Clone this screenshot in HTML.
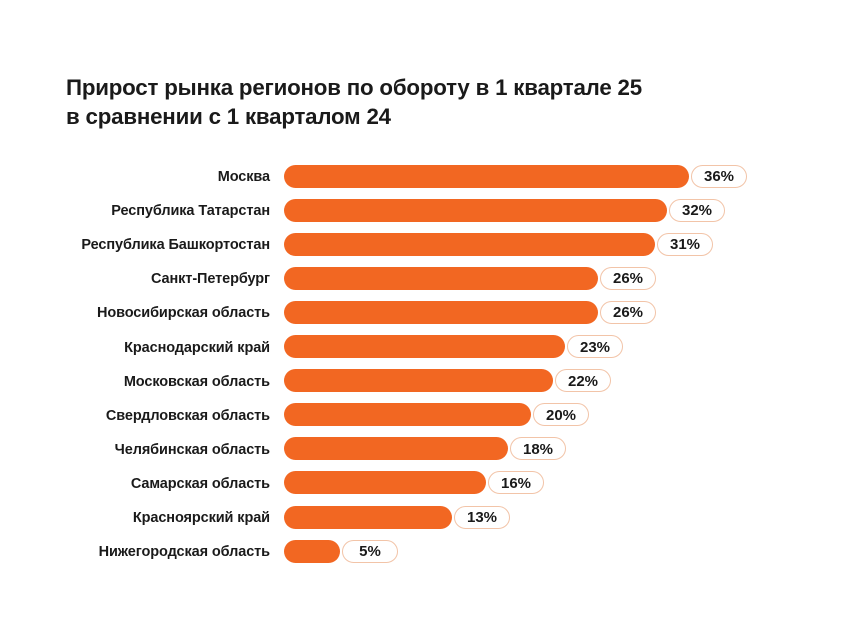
<!DOCTYPE html>
<html><head><meta charset="utf-8"><style>
body{margin:0;width:850px;height:639px;background:#fff;font-family:"Liberation Sans",sans-serif;position:relative;overflow:hidden;color:#1a1a1a}
.t{position:absolute;left:66px;top:73px;font-size:22.3px;font-weight:bold;line-height:29px;letter-spacing:-0.2px}
.l{position:absolute;right:580px;font-size:14.5px;font-weight:bold;text-align:right;white-space:nowrap;height:22px;line-height:22px;letter-spacing:-0.1px}
.b{position:absolute;left:284px;height:23px;background:#f26722;border-radius:12px}
.p{position:absolute;box-sizing:border-box;height:23px;width:56px;border:1.5px solid #f2c4a8;border-radius:12px;font-size:15px;font-weight:bold;background:#fff;display:flex;align-items:center;justify-content:center;padding-top:1px}
</style></head><body>
<div class="t">Прирост рынка регионов по обороту в 1 квартале 25<br>в сравнении с 1 кварталом 24</div>
<div id="c"></div>
<script>
var d=[["Москва",689,"36%"],["Республика Татарстан",667,"32%"],["Республика Башкортостан",655,"31%"],["Санкт-Петербург",598,"26%"],["Новосибирская область",598,"26%"],["Краснодарский край",565,"23%"],["Московская область",553,"22%"],["Свердловская область",531,"20%"],["Челябинская область",508,"18%"],["Самарская область",486,"16%"],["Красноярский край",452,"13%"],["Нижегородская область",340,"5%"]];
var h="";d.forEach(function(r,i){var c=176+i*34.1;var y=c-11.5;
h+='<div class="l" style="top:'+(c-10)+'px">'+r[0]+'</div><div class="b" style="top:'+y+'px;width:'+(r[1]-284)+'px"></div><div class="p" style="top:'+y+'px;left:'+(r[1]+2)+'px">'+r[2]+'</div>';});
document.getElementById("c").innerHTML=h;
</script>
</body></html>
